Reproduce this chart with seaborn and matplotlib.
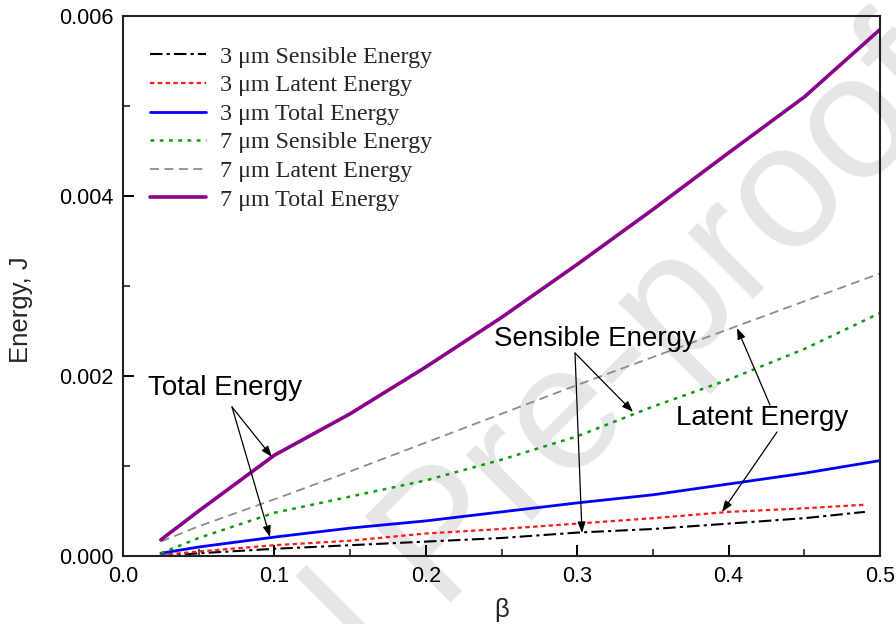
import matplotlib
matplotlib.use("Agg")
import matplotlib.pyplot as plt
import seaborn as sns
import pandas as pd

# beta values at which each curve is sampled
beta = [0.025, 0.05, 0.1, 0.15, 0.2, 0.25, 0.3, 0.35, 0.4, 0.45, 0.5]
beta_3um_short = [0.025, 0.05, 0.1, 0.15, 0.2, 0.25, 0.3, 0.35, 0.4, 0.45, 0.49]

# energies in J
sens_3um = [0.00000, 0.00003, 0.00008, 0.00012, 0.00016, 0.00020, 0.00026, 0.00030, 0.00036, 0.00042, 0.00049]
lat_3um = [0.00001, 0.00005, 0.00012, 0.00017, 0.00025, 0.00030, 0.00036, 0.00042, 0.00049, 0.00053, 0.00057]
tot_3um = [0.00003, 0.00010, 0.00021, 0.00031, 0.00039, 0.00049, 0.00059, 0.00068, 0.00080, 0.00092, 0.00106]
sens_7um = [0.00003, 0.00020, 0.00048, 0.00066, 0.00084, 0.00107, 0.00133, 0.00166, 0.00196, 0.00230, 0.00270]
lat_7um = [0.00016, 0.00033, 0.00063, 0.00094, 0.00126, 0.00158, 0.00190, 0.00221, 0.00252, 0.00283, 0.00314]
tot_7um = [0.00018, 0.00050, 0.00112, 0.00158, 0.00210, 0.00265, 0.00324, 0.00385, 0.00448, 0.00510, 0.00585]

labels = ["3 \u03bcm Sensible Energy", "3 \u03bcm Latent Energy", "3 \u03bcm Total Energy",
          "7 \u03bcm Sensible Energy", "7 \u03bcm Latent Energy", "7 \u03bcm Total Energy"]

sns.set_theme(style="ticks")
plt.rcParams["font.family"] = ["Liberation Sans", "DejaVu Sans"]

W, H = 896, 624
fig = plt.figure(figsize=(W / 100, H / 100), dpi=100, facecolor="white")
ax = fig.add_axes([123 / W, 1 - 556 / H, (880 - 123) / W, (556 - 16) / H])
ax.patch.set_alpha(0)

# faint diagonal watermark behind the plot
fig.text(960 / W, 1 - 92 / H, "Journal Pre-proof", rotation=45,
         rotation_mode="anchor", fontsize=127, color="#e6e6e6",
         ha="right", va="baseline", zorder=-5,
         family=["Liberation Sans", "DejaVu Sans"])

series = [
    (beta_3um_short, sens_3um, labels[0], "black", (0, (6, 2, 1.5, 2)), 1.5),
    (beta_3um_short, lat_3um, labels[1], "#ff1a1a", (0, (2, 1.5)), 1.6),
    (beta, tot_3um, labels[2], "#0000ff", "-", 2.0),
    (beta, sens_7um, labels[3], "#119911", (0, (1.5, 2.2)), 1.8),
    (beta, lat_7um, labels[4], "#8c8c8c", (0, (5, 3)), 1.3),
    (beta, tot_7um, labels[5], "#8b008b", "-", 2.6),
]

for xs, ys, lab, col, ls, lw in series:
    df = pd.DataFrame({"beta": xs, "E": ys})
    sns.lineplot(data=df, x="beta", y="E", ax=ax, color=col, linestyle=ls,
                 linewidth=lw, label=lab)

ax.set_xlim(0.0, 0.5)
ax.set_ylim(0.0, 0.006)
ax.set_xticks([0.0, 0.1, 0.2, 0.3, 0.4, 0.5])
ax.set_xticklabels(["0.0", "0.1", "0.2", "0.3", "0.4", "0.5"])
ax.set_xticks([0.05, 0.15, 0.25, 0.35, 0.45], minor=True)
ax.set_yticks([0.0, 0.002, 0.004, 0.006])
ax.set_yticklabels(["0.000", "0.002", "0.004", "0.006"])
ax.set_yticks([0.001, 0.003, 0.005], minor=True)
ax.tick_params(axis="both", which="major", direction="in", length=8, width=1.4,
               labelsize=15.5, pad=7, colors="black")
ax.tick_params(axis="both", which="minor", direction="in", length=5, width=1.2)
for s in ax.spines.values():
    s.set_linewidth(1.5)
    s.set_color("#222222")

ax.set_xlabel("\u03b2", fontsize=18.5, labelpad=8)
ax.set_ylabel("Energy, J", fontsize=18.5)
ax.yaxis.set_label_coords(-0.119, 0.457)

leg = ax.legend(loc="upper left", bbox_to_anchor=(27 / 757, (556 - 46) / 540),
                frameon=False, borderpad=0, borderaxespad=0,
                handlelength=2.35, handletextpad=0.55, labelspacing=0.28,
                prop={"family": ["Liberation Serif", "DejaVu Serif"], "size": 17.3})


def px(x, y):
    return ((x - 123) / 1514.0, (556 - y) / 90000.0)


arrow = dict(arrowstyle="-|>,head_length=0.55,head_width=0.2", color="black",
             lw=0.9, shrinkA=0, shrinkB=0)

ann_font = dict(fontsize=20, ha="center", va="center", color="black")
ax.text(*px(225, 388), "Total Energy", **ann_font)
ax.text(*px(595, 339), "Sensible Energy", **ann_font)
ax.text(*px(762, 418), "Latent Energy", **ann_font)

for start, end in [((232, 407), (272, 457)), ((232, 407), (270, 537)),
                   ((575, 353), (633, 412)), ((575, 353), (582, 533)),
                   ((770, 405), (737, 328)), ((777, 432), (722, 512))]:
    ax.annotate("", xy=px(*end), xytext=px(*start), xycoords="data",
                textcoords="data", arrowprops=arrow)

fig.savefig("out.png", dpi=100, facecolor="white")
